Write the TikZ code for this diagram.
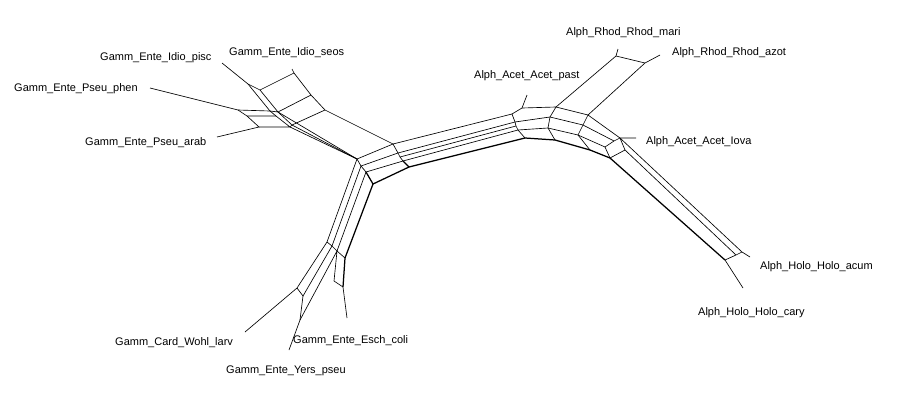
\documentclass[tikz,border=0pt]{standalone}
\usepackage{fontspec}
\setmainfont{Liberation Sans}

\begin{document}
\begin{tikzpicture}[x=1pt,y=-1pt,
  edge/.style={line width=0.65pt},
  heavy/.style={line width=1.25pt},
  lbl/.style={font=\fontsize{11}{13}\selectfont, inner sep=0pt, anchor=base west}]
\useasboundingbox (0,0) rectangle (900,400);
% taxon labels:
\node[lbl] (Lpisc) at (100,60) {Gamm\_Ente\_Idio\_pisc};
\node[lbl] (Lseos) at (229,55.5) {Gamm\_Ente\_Idio\_seos};
\node[lbl] (Lphen) at (14,91.5) {Gamm\_Ente\_Pseu\_phen};
\node[lbl] (Larab) at (85,145) {Gamm\_Ente\_Pseu\_arab};
\node[lbl] (Lmari) at (566,35) {Alph\_Rhod\_Rhod\_mari};
\node[lbl] (Lazot) at (672,55) {Alph\_Rhod\_Rhod\_azot};
\node[lbl] (Lpast) at (474,78.5) {Alph\_Acet\_Acet\_past};
\node[lbl] (Liova) at (646,144) {Alph\_Acet\_Acet\_Iova};
\node[lbl] (Lacum) at (760,269) {Alph\_Holo\_Holo\_acum};
\node[lbl] (Lcary) at (698,315) {Alph\_Holo\_Holo\_cary};
\node[lbl] (Lwohl) at (115,345.5) {Gamm\_Card\_Wohl\_larv};
\node[lbl] (Lesch) at (293,343) {Gamm\_Ente\_Esch\_coli};
\node[lbl] (Lyers) at (226,373) {Gamm\_Ente\_Yers\_pseu};
% leaf tips:
\coordinate (tpisc) at (222,63);
\coordinate (tseos) at (292,69);
\coordinate (tphen) at (150,88);
\coordinate (tarab) at (217,137);
\coordinate (tmari) at (618,49);
\coordinate (tazot) at (660,55);
\coordinate (tpast) at (527,95);
\coordinate (tiova) at (636,138);
\coordinate (tacum) at (750,257);
\coordinate (tcary) at (743,288);
\coordinate (twohl) at (245,332);
\coordinate (tesch) at (347,318);
\coordinate (tyers) at (289,350);
% upper left splits:
\coordinate (p0) at (248,84);
\coordinate (p1) at (260,90);
\coordinate (q0) at (294,73);
\coordinate (q1) at (311,95);
\coordinate (q2) at (325,110);
\coordinate (u0) at (270,111);
\coordinate (u1) at (278,112);
\coordinate (u2) at (276,116);
\coordinate (v0) at (238,110);
\coordinate (v1) at (247,116);
\coordinate (w0) at (259,127);
\coordinate (x0) at (290,127);
\coordinate (x1) at (292,125);
\draw[edge] (tpisc) -- (p0) -- (p1) -- (q0) -- (tseos);
\draw[edge] (p0) -- (u0) -- (u1) -- (p1);
\draw[edge] (tphen) -- (v0) -- (u0);
\draw[edge] (v0) -- (v1) -- (u2);
\draw[edge] (v1) -- (w0) -- (tarab);
\draw[edge] (w0) -- (x0) -- (u2) -- (u0);
\draw[edge] (u1) -- (x1) -- (x0);
\draw[edge] (q0) -- (q1) -- (q2);
\draw[edge] (u1) -- (q1);
\draw[edge] (x1) -- (q2);
% centre:
\coordinate (c1) at (357,159);
\coordinate (c2) at (361,166);
\coordinate (c3) at (366,172);
\coordinate (c4) at (373,184);
\coordinate (c5) at (393,144);
\coordinate (c6) at (398,153);
\coordinate (c6b) at (400,157);
\coordinate (c7) at (403,161);
\coordinate (c8) at (409,167);
\draw[edge] (u1) -- (c1);
\draw[edge] (x0) -- (c1);
\draw[edge] (x1) -- (c1);
\draw[edge] (q2) -- (c5);
\draw[edge] (c1) -- (c2) -- (c3);
\draw[heavy] (c3) -- (c4);
\draw[edge] (c5) -- (c6) -- (c6b) -- (c7);
\draw[heavy] (c7) -- (c8);
\draw[edge] (c1) -- (c5);
\draw[edge] (c2) -- (c6);
\draw[edge] (c3) -- (c7);
\draw[heavy] (c4) -- (c8);
% band to Acet:
\coordinate (a1) at (522,108);
\coordinate (a2) at (512,114);
\coordinate (m1) at (515,122);
\coordinate (m1b) at (516,126);
\coordinate (m2) at (518,130);
\coordinate (a4) at (525,138);
\draw[edge] (c5) -- (a2);
\draw[edge] (c6) -- (m1);
\draw[edge] (c6b) -- (m1b);
\draw[edge] (c7) -- (m2);
\draw[heavy] (c8) -- (a4);
\draw[edge] (tpast) -- (a1) -- (a2) -- (m1) -- (m1b) -- (m2) -- (a4);
% lower arm:
\coordinate (e1) at (327,242);
\coordinate (e2) at (332,246);
\coordinate (e3) at (337,251);
\coordinate (e4) at (345,258);
\coordinate (w1) at (297,288);
\coordinate (w2) at (303,296);
\coordinate (y1) at (300,320);
\coordinate (s0) at (334,281);
\coordinate (s1) at (343,287);
\draw[edge] (c1) -- (e1);
\draw[edge] (c2) -- (e2);
\draw[edge] (c3) -- (e3);
\draw[heavy] (c4) -- (e4);
\draw[edge] (e1) -- (e2) -- (e3) -- (e4);
\draw[edge] (twohl) -- (w1) -- (e1);
\draw[edge] (w1) -- (w2) -- (e2);
\draw[edge] (w2) -- (y1) -- (tyers);
\draw[edge] (y1) -- (e3) -- (s0) -- (s1);
\draw[heavy] (e4) -- (s1);
\draw[edge] (s1) -- (tesch);
% Acet box and Rhod:
\coordinate (b1) at (556,107);
\coordinate (n1) at (550,117);
\coordinate (n2) at (548,128);
\coordinate (b4) at (555,140);
\coordinate (rA) at (616,56);
\coordinate (rB) at (645,63);
\draw[edge] (a1) -- (b1);
\draw[edge] (m1) -- (n1);
\draw[edge] (m2) -- (n2);
\draw[heavy] (a4) -- (b4);
\draw[edge] (b1) -- (n1) -- (n2) -- (b4);
\draw[edge] (tmari) -- (rA) -- (rB) -- (tazot);
\draw[edge] (rA) -- (b1);
\coordinate (g1) at (588,115);
\coordinate (g2) at (583,125);
\coordinate (g3) at (578,135);
\coordinate (g4) at (590,150);
\draw[edge] (rB) -- (g1);
\draw[edge] (b1) -- (g1);
\draw[edge] (n1) -- (g2);
\draw[edge] (n2) -- (g3);
\draw[heavy] (b4) -- (g4);
\draw[edge] (g1) -- (g2) -- (g3) -- (g4);
% Iova and Holo:
\coordinate (i1) at (620,138);
\coordinate (j1) at (614,141);
\coordinate (k1) at (605,147);
\coordinate (i2) at (625,150);
\coordinate (i4) at (610,158);
\coordinate (h1) at (742,252);
\coordinate (h2) at (736,255);
\coordinate (h4) at (725,260);
\draw[edge] (g1) -- (i1) -- (tiova);
\draw[edge] (g2) -- (j1);
\draw[edge] (g3) -- (k1);
\draw[heavy] (g4) -- (i4);
\draw[edge] (i1) -- (j1) -- (k1) -- (i4);
\draw[edge] (i1) -- (i2) -- (i4);
\draw[edge] (i1) -- (h1) -- (tacum);
\draw[edge] (i2) -- (h2);
\draw[heavy] (i4) -- (h4);
\draw[edge] (h4) -- (h2) -- (h1);
\draw[edge] (h4) -- (tcary);
\end{tikzpicture}
\end{document}
